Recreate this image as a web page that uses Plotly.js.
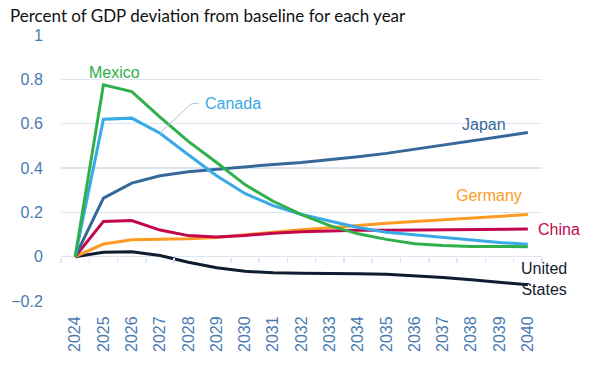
<!DOCTYPE html>
<html>
<head>
<meta charset="utf-8">
<script src="https://cdn.plot.ly/plotly-3.0.1.min.js"></script>
<style>html,body{margin:0;padding:0;background:#fff;}#chart{width:602px;height:373px;}</style>
</head>
<body>
<div id="chart"></div>
<script>
const years = ["2024","2025","2026","2027","2028","2029","2030","2031","2032","2033","2034","2035","2036","2037","2038","2039","2040"];
const mexico  = [0, 0.775, 0.745, 0.63, 0.52, 0.425, 0.325, 0.25, 0.19, 0.14, 0.103, 0.078, 0.058, 0.05, 0.046, 0.045, 0.045];
const canada  = [0, 0.62, 0.625, 0.557, 0.46, 0.365, 0.285, 0.23, 0.19, 0.16, 0.132, 0.11, 0.099, 0.087, 0.074, 0.064, 0.056];
const japan   = [0, 0.264, 0.332, 0.365, 0.383, 0.395, 0.407, 0.416, 0.425, 0.437, 0.451, 0.466, 0.485, 0.505, 0.523, 0.542, 0.56];
const germany = [0, 0.057, 0.076, 0.078, 0.081, 0.087, 0.099, 0.111, 0.122, 0.131, 0.142, 0.151, 0.159, 0.167, 0.175, 0.183, 0.19];
const china   = [0, 0.159, 0.163, 0.12, 0.095, 0.089, 0.096, 0.106, 0.112, 0.116, 0.119, 0.119, 0.12, 0.121, 0.122, 0.124, 0.125];
const usa     = [0, 0.02, 0.022, 0.005, -0.025, -0.05, -0.066, -0.073, -0.075, -0.075, -0.077, -0.079, -0.085, -0.094, -0.104, -0.114, -0.127];

const tickColor = "#4a7ab0";
const gridColor = "#dbe6f2";

function line(y, color, name) {
  return {x: years, y: y, type: "scatter", mode: "lines", name: name,
          line: {color: color, width: 3}, hoverinfo: "skip"};
}

const traces = [
  line(usa, "#0f1d30", "United States"),
  line(germany, "#fd9a21", "Germany"),
  line(china, "#c2074f", "China"),
  line(japan, "#36699a", "Japan"),
  line(canada, "#39aae5", "Canada"),
  line(mexico, "#30b04a", "Mexico"),
  {x: years, y: years.map(() => null), type: "scatter", mode: "lines", xaxis: "x2", showlegend: false, hoverinfo: "skip"}
];

const L = 61, R = 542, T = 35, B = 301;
function px(x) { return (x - L) / (R - L); }
function py(y) { return (B - y) / (B - T); }

const annFont = {family: "Liberation Sans, Arial, sans-serif", size: 16};
function ann(text, x, y, color) {
  return {text: text, x: px(x), y: py(y), xref: "paper", yref: "paper",
          xanchor: "center", yanchor: "middle", showarrow: false,
          font: Object.assign({}, annFont, {color: color})};
}

const layout = {
  width: 602, height: 373,
  margin: {l: L, r: 602 - R, t: T, b: 373 - B},
  paper_bgcolor: "#ffffff", plot_bgcolor: "#ffffff",
  showlegend: false,
  title: {text: "Percent of GDP deviation from baseline for each year",
          font: {family: "Lato, sans-serif", size: 17, color: "#111111"},
          x: 10 / 602, xanchor: "left", xref: "container",
          y: 1 - 16 / 373, yanchor: "middle", yref: "container"},
  xaxis: {type: "category", range: [-0.5, 16.5], showgrid: false, zeroline: false,
          showline: false, tickangle: -90, ticks: "outside", ticklen: 8,
          tickcolor: "rgba(0,0,0,0)",
          tickfont: {family: "Liberation Sans, Arial, sans-serif", size: 16, color: tickColor}},
  xaxis2: {type: "category", overlaying: "x", matches: "x", anchor: "free",
           position: 0.2 / 1.2, showgrid: false, zeroline: false, showline: false,
           ticks: "outside", ticklen: 5, tickcolor: gridColor, tickwidth: 1.5,
           tickson: "boundaries", showticklabels: false},
  yaxis: {range: [-0.2, 1], dtick: 0.2, tick0: 0, showgrid: true, gridcolor: gridColor,
          gridwidth: 1.5, zeroline: true, zerolinecolor: gridColor, zerolinewidth: 1.5,
          showline: false, ticks: "outside", ticklen: 14, tickcolor: "rgba(0,0,0,0)",
          tickfont: {family: "Liberation Sans, Arial, sans-serif", size: 16, color: tickColor}},
  annotations: [
    ann("Mexico", 114, 72, "#2eac48"),
    ann("Canada", 233, 103, "#39aae5"),
    ann("Japan", 484, 124, "#36699a"),
    ann("Germany", 489, 195, "#fd9a21"),
    ann("China", 559, 230, "#c2074f"),
    ann("United<br>States", 544, 279, "#13202f")
  ],
  shapes: [
    {type: "path", xref: "paper", yref: "paper",
     path: "M " + px(199) + "," + py(103) + " L " + px(191) + "," + py(104) + " L " + px(160) + "," + py(133),
     line: {color: "#a9c3dc", width: 1}}
  ]
};

Plotly.newPlot("chart", traces, layout, {displayModeBar: false, staticPlot: true});
</script>
</body>
</html>
